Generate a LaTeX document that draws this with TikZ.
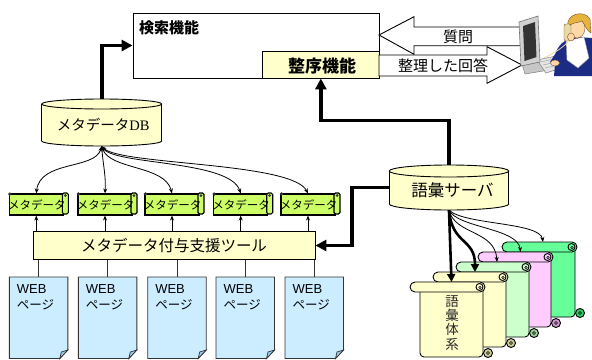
\documentclass[tikz,border=0pt]{standalone}
\usepackage{fontspec}
\setmainfont{Noto Sans CJK JP}
\newfontfamily\dbfont{Liberation Serif}
\newfontfamily\webfont{Liberation Sans}
\usetikzlibrary{arrows.meta}
\definecolor{cream}{HTML}{FFFFCC}
\definecolor{lime}{HTML}{CCFF66}
\definecolor{sky}{HTML}{CCECFF}
\definecolor{skydark}{HTML}{99CCEE}
\definecolor{mint}{HTML}{CCFFCC}
\definecolor{rose}{HTML}{FFCCFF}
\definecolor{jade}{HTML}{66FF99}
\definecolor{creamcurl}{HTML}{CCCC99}
\definecolor{mintcurl}{HTML}{99CC99}
\definecolor{rosecurl}{HTML}{CC99CC}
\definecolor{jadecurl}{HTML}{33CC66}
\definecolor{navy}{HTML}{1C2C84}
\definecolor{skin}{HTML}{FFD9A8}
\definecolor{hair}{HTML}{E6B43C}
\definecolor{handset}{HTML}{E8D9A6}
\definecolor{pagegray}{HTML}{333333}

\begin{document}
\begin{tikzpicture}[x=1pt,y=-1pt]
\tikzset{
  outline/.style={draw=black, line width=0.9pt},
  txt/.style={inner sep=0pt, font=\fontsize{#1}{#1}\selectfont},
  heavy/.style={line width=3.8pt, -{Triangle[length=11pt,width=11pt]}},
  boldarrow/.style={line width=2.6pt, -{Triangle[length=8pt,width=8pt]}},
  finearrow/.style={line width=0.8pt, -{Stealth[length=5pt,width=4pt]}},
  twoway/.style={line width=0.8pt, {Stealth[length=5pt,width=4pt]}-{Stealth[length=5pt,width=4pt]}},
  hollow/.style={draw=black, line width=0.9pt, fill=white},
}
\useasboundingbox (0,0) rectangle (592,359);

% ---------- search function with its ordering part ----------
\node[outline, fill=white, minimum width=246pt, minimum height=65pt, inner sep=0pt] (search) at (256,45.5) {};
\node[txt=15, anchor=west] (searchname) at (139,27.5) {\bfseries 検索機能};
\node[outline, fill=cream, minimum width=116.3pt, minimum height=26.3pt, inner sep=0pt] (order) at (320.85,64.85) {};
\node[txt=17] (ordername) at (322,66) {\bfseries 整序機能};

% ---------- question / answer block arrows ----------
\draw[hollow] (379,35) -- (414,16.7) -- (414,27) -- (522,27) -- (522,45.7) -- (414,45.7) -- (414,54.3) -- cycle;
\draw[hollow] (379,55) -- (487,55) -- (487,46.7) -- (522,65) -- (487,83.3) -- (487,76) -- (379,76) -- cycle;
\node[txt=15] (question) at (458,37) {質問};
\node[txt=15] (answer) at (443,66) {整理した回答};

% ---------- metadata DB (cylinder) ----------
\draw[outline, fill=cream] (101.7,141) ellipse [x radius=60, y radius=5];
\fill[cream] (41.7,104) rectangle (161.7,141);
\draw[outline] (41.7,104) -- (41.7,141) (161.7,104) -- (161.7,141);
\draw[outline, fill=cream] (101.7,104) ellipse [x radius=60, y radius=5];
\node[inner sep=0pt, minimum width=120pt, minimum height=47pt] (db) at (101.7,122.5) {};
\node[txt=14.5] (dbname) at (103.3,125) {メタデータ{\dbfont DB}};

% ---------- vocabulary server (cylinder) ----------
\draw[outline, fill=cream] (449,204) ellipse [x radius=59.7, y radius=6];
\fill[cream] (389.3,171) rectangle (508.7,204);
\draw[outline] (389.3,171) -- (389.3,204) (508.7,171) -- (508.7,204);
\draw[outline, fill=cream] (449,171) ellipse [x radius=59.7, y radius=6];
\node[inner sep=0pt, minimum width=119.4pt, minimum height=45pt] (server) at (449,187.5) {};
\node[txt=16.5] (servername) at (452.5,190) {語彙サーバ};

% ---------- metadata tool ----------
\node[outline, fill=cream, minimum width=282pt, minimum height=27.6pt, inner sep=0pt] (tool) at (174,245.5) {};
\node[txt=15.5] (toolname) at (174,246) {メタデータ付与支援ツール};

% ---------- heavy connectors ----------
\draw[heavy] (db.north) |- (search.west);
\draw[heavy] (server.north) -- ++(0,-44.3) -| (order.south);
\draw[heavy] (server.west) -- ++(-37,0) |- (tool.east);

% ---------- metadata scrolls ----------
\foreach \i/\L in {1/7.3, 2/76, 3/143, 4/211.7, 5/279} {
  \node[draw=black, line width=1.1pt, fill=lime, minimum width=54pt, minimum height=21pt, inner sep=0pt] (meta\i) at (\L+29,204.5) {};
  \draw[draw=black, line width=1.1pt, fill=lime, rounded corners=1.5pt] (\L+55,193) rectangle (\L+61,214);
  \fill[black!80] (\L+2.5,194) circle [radius=1.8];
  \fill[black!80] (\L+58,195.5) circle [radius=1.5];
  \node[txt=11.5] (metaname\i) at (\L+29.5,205) {メタデータ};
  \draw[finearrow] (meta\i.south |- tool.north) -- (meta\i.south);
}

% ---------- DB links to each metadata ----------
\draw[twoway] (db.south) .. controls (95,170) and (40,160) .. (meta1.north);
\draw[twoway] (db.south) .. controls (103,165) and (106,175) .. (meta2.north);
\draw[twoway] (db.south) .. controls (110,170) and (165,165) .. (meta3.north);
\draw[twoway] (db.south) .. controls (115,165) and (230,160) .. (meta4.north);
\draw[twoway] (db.south) .. controls (120,165) and (292,162) .. (meta5.north);

% ---------- web pages ----------
\foreach \i/\L in {1/9.3, 2/78.3, 3/147.7, 4/216, 5/285} {
  \draw[draw=pagegray, line width=0.9pt, fill=sky] (\L,277) -- (\L+58.5,277) -- (\L+58.5,350) -- (\L+50.5,358.5) -- (\L,358.5) -- cycle;
  \draw[draw=pagegray, line width=0.7pt, fill=skydark] (\L+58.5,350) -- (\L+52,352) -- (\L+50.5,358.5) -- cycle;
  \coordinate (web\i) at (\L+29.25,277);
  \node[txt=13, anchor=base west] (webword\i) at (\L+7.4,293.3) {\webfont WEB};
  \node[txt=12.5, anchor=base west] (webkana\i) at (\L+7.4,309) {ページ};
  \draw[pagegray, line width=0.9pt] (web\i) -- (web\i |- tool.south);
}

% ---------- vocabulary systems (stacked scrolls) ----------
\foreach \L/\T/\fc/\cc in {502/242/jade/jadecurl, 478/252/rose/rosecurl, 456/262/mint/mintcurl, 433/272/cream/creamcurl, 410/282/cream/creamcurl} {
  \draw[outline, fill=\fc, rounded corners=4pt] (\L+73,\T+5) -- (\L+10,\T+5) -- (\L+10,\T+75) -- (\L+73,\T+75) -- cycle;
  \draw[outline, fill=\fc, rounded corners=5pt] (\L,\T) rectangle (\L+75,\T+10);
  \draw[outline] (\L+69.5,\T+5) circle [radius=3.5];
  \draw[line width=0.6pt] (\L+70,\T+5.5) circle [radius=1.3];
  \draw[outline, fill=\cc] (\L+78,\T+71) circle [radius=4.5];
  \draw[line width=0.6pt] (\L+78,\T+71) circle [radius=1.5];
}
\coordinate (voc1) at (451.5,282);
\coordinate (voc2) at (475,272);
\coordinate (voc3) at (497,262);
\coordinate (voc4) at (520.5,252);
\coordinate (voc5) at (543,242);
\node[inner sep=0pt, align=center, font=\fontsize{13.5}{14.2}\selectfont, text=black!85] (vocabname) at (452,323) {語\\彙\\体\\系};

\draw[boldarrow] (server.south) -- (voc1);
\draw[boldarrow] (server.south) .. controls (452,245) and (475,238) .. (voc2);
\draw[finearrow] (server.south) .. controls (455,235) and (495,230) .. (voc3);
\draw[finearrow] (server.south) .. controls (458,228) and (518,228) .. (voc4);
\draw[finearrow] (server.south) .. controls (465,225) and (540,222) .. (voc5);

% ---------- user at the workstation ----------
% monitor base and keyboard
\draw[draw=black!50, line width=0.5pt, fill=black!22] (522,64) -- (546,61) -- (549,70) -- (525,74) -- cycle;
\draw[draw=black!50, line width=0.5pt, fill=black!10] (537,60) -- (556,56) -- (567,66) -- (546,73) -- cycle;
\draw[black!40, line width=0.4pt] (541,62) -- (558,58) (543,65) -- (561,61) (545,68) -- (563,64);
% monitor
\draw[draw=black!55, line width=0.6pt, fill=black!18] (519,22) -- (538,16) -- (540,62) -- (521,66) -- cycle;
\fill[black!80] (523,26) -- (535,22) -- (536.5,57) -- (524.5,61) -- cycle;
% body
\fill[navy] (554,76) -- (556,52) .. controls (560,42) and (568,38) .. (578,37) -- (592,38) -- (592,76) -- cycle;
\draw[draw=black!40, line width=0.4pt, fill=white] (566,41) -- (584,37) -- (589,58) -- (578,68) -- (567,60) -- cycle;
\fill[navy] (559,48) -- (550,62) -- (558,67) -- (566,56) -- cycle;
\draw[draw=brown!70!black, line width=0.4pt, fill=skin] (555,63) ellipse [x radius=4.5, y radius=3];
% phone cord
\draw[handset, line width=0.8pt] (568,42) .. controls (560,50) and (552,54) .. (544,58);
% head
\draw[draw=brown!70!black, line width=0.4pt, fill=skin] (577,28) ellipse [x radius=8, y radius=10];
\draw[draw=brown!60!black, line width=0.4pt, fill=hair] (568,27) .. controls (565,14) and (584,9) .. (590,19) -- (591,33) .. controls (587,31) and (585,25) .. (582,21) .. controls (578,23) and (572,22) .. (568,27) -- cycle;
% handset and hand
\draw[draw=brown!60!black, line width=0.4pt, fill=handset, rounded corners=2pt] (564,24) rectangle (571,41);
\draw[draw=brown!70!black, line width=0.4pt, fill=skin] (571,37) ellipse [x radius=3.5, y radius=4];
\end{tikzpicture}
\end{document}
